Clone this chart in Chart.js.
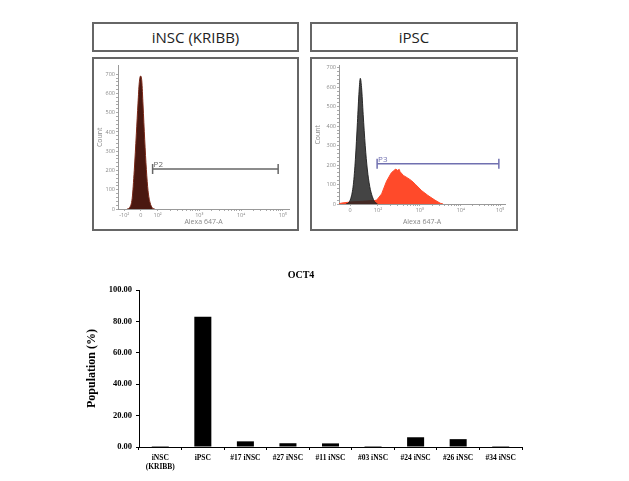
<!DOCTYPE html>
<html>
<head>
<meta charset="utf-8">
<script src="https://cdn.jsdelivr.net/npm/chart.js@4.4.1/dist/chart.umd.min.js"></script>
<style>
  body { margin: 0; background: #fff; width: 629px; height: 481px; position: relative; overflow: hidden; }
  .box { position: absolute; box-sizing: border-box; border: 2px solid #666; background: #fff; }
  .head { font-family: "Open Sans", sans-serif; font-size: 15px; color: #222; text-align: center; line-height: 26px; }
  canvas { position: absolute; }
</style>
</head>
<body>
<div class="box head" style="left:92px;top:22px;width:207px;height:30px;">iNSC (KRIBB)</div>
<div class="box head" style="left:310px;top:22px;width:208px;height:30px;">iPSC</div>
<div class="box" style="left:92px;top:57px;width:207px;height:174px;"></div>
<div class="box" style="left:310px;top:57px;width:208px;height:174px;"></div>
<div style="position:absolute;left:94px;top:59px;width:203px;height:170px;"><canvas id="histLeft"></canvas></div>
<div style="position:absolute;left:312px;top:59px;width:204px;height:170px;"><canvas id="histRight"></canvas></div>
<div style="position:absolute;left:80px;top:265px;width:460px;height:215px;"><canvas id="bars"></canvas></div>
<script>
// flow histograms, x in display units of the biexponential axis (decades)
const leftX = [-0.33, -0.27, -0.21, -0.16, -0.11, -0.07, -0.04, -0.01, 0.02, 0.05, 0.09, 0.13, 0.17, 0.22, 0.27, 0.33]
const leftCount = [0, 8, 55, 200, 390, 550, 655, 690, 665, 540, 360, 205, 95, 32, 7, 0]

const blackX = [-0.1, -0.04, 0.02, 0.08, 0.13, 0.18, 0.22, 0.25, 0.28, 0.32, 0.37, 0.42, 0.48, 0.54, 0.6, 0.67]
const blackCount = [0, 6, 30, 100, 230, 420, 580, 646, 600, 460, 300, 180, 90, 40, 12, 0]

const redX = [-0.3, -0.2, 0, 0.3, 0.6, 0.65, 0.77, 0.89, 1.0, 1.06, 1.12, 1.15, 1.2, 1.22, 1.3, 1.41, 1.5, 1.59, 1.75, 1.9, 2.07, 2.2, 2.27]
const redCount = [0, 5, 10, 14, 18, 20, 52, 117, 158, 171, 180, 172, 178, 166, 147, 133, 120, 102, 68, 44, 20, 4, 0]

const leftTickPos = [-0.4, 0, 0.4, 1.4, 2.4, 3.4]
const leftTickText = ['-10²', '0', '10²', '10³', '10⁴', '10⁵']
const rightTickPos = [0, 0.68, 1.7, 2.7, 3.66]
const rightTickText = ['0', '10²', '10³', '10⁴', '10⁵']

const gateLeft = { name: 'P2', from: 0.28, to: 3.29, count: 208 }
const gateRight = { name: 'P3', from: 0.66, to: 3.63, count: 207 }

// bar chart
const barLabels = [['iNSC', '(KRIBB)'], 'iPSC', '#17 iNSC', '#27 iNSC', '#11 iNSC', '#03 iNSC', '#24 iNSC', '#26 iNSC', '#34 iNSC']
const barValues = [0.6, 83.0, 3.6, 2.4, 2.3, 0.6, 6.2, 5.0, 0.6]

function points (xs, ys) {
  return xs.map(function (x, i) { return { x: x, y: ys[i] } })
}

function minorTicks (majors) {
  // log minor ticks between the decade labels
  const out = []
  for (let i = 0; i < majors.length - 1; i++) {
    const a = majors[i]
    const b = majors[i + 1]
    if (b - a > 0.8) {
      for (let k = 2; k < 10; k++) out.push(a + (b - a) * Math.log10(k))
    }
  }
  return out
}

const gatePlugin = {
  id: 'gateText',
  afterDatasetsDraw (chart) {
    const g = chart.options.plugins.gateText
    if (!g) return
    const ctx = chart.ctx
    const x = chart.scales.x.getPixelForValue(g.from)
    const y = chart.scales.y.getPixelForValue(g.count)
    ctx.save()
    ctx.font = '8px "Open Sans", sans-serif'
    ctx.fillStyle = g.color
    ctx.textBaseline = 'bottom'
    ctx.fillText(g.name, x + 1, y)
    ctx.restore()
  },
}

function histConfig (datasets, tickPos, tickText, xMin, xMax, yMax, xHeight, yWidth, pad, gate, gateColor) {
  datasets.push({
    data: [{ x: gate.from, y: gate.count }, { x: gate.to, y: gate.count }],
    borderColor: gateColor,
    borderWidth: 1.5,
    pointStyle: 'line',
    rotation: 90,
    pointRadius: 5,
    pointBorderWidth: 1.5,
    pointBorderColor: gateColor,
    fill: false,
  })
  const tickFont = { family: 'Open Sans', size: 5.5 }
  return {
    type: 'line',
    data: { datasets: datasets },
    plugins: [gatePlugin],
    options: {
      responsive: true,
      maintainAspectRatio: false,
      animation: false,
      layout: { padding: pad },
      plugins: {
        legend: { display: false },
        tooltip: { enabled: false },
        gateText: { name: gate.name, from: gate.from, count: gate.count, color: gateColor },
      },
      elements: { point: { radius: 0 }, line: { tension: 0 } },
      scales: {
        x: {
          type: 'linear',
          min: xMin,
          max: xMax,
          afterBuildTicks: function (scale) {
            scale.ticks = tickPos.concat(minorTicks(tickPos)).map(function (v) { return { value: v } })
          },
          afterFit: function (scale) { scale.height = xHeight },
          ticks: {
            autoSkip: false,
            maxRotation: 0,
            padding: 1,
            color: '#888',
            font: tickFont,
            callback: function (value) {
              const i = tickPos.indexOf(value)
              return i >= 0 ? tickText[i] : ''
            },
          },
          grid: { drawOnChartArea: false, tickLength: 2, color: '#aaa' },
          border: { color: '#999', width: 1 },
          title: { display: true, text: 'Alexa 647-A', color: '#888', font: { family: 'Open Sans', size: 7 }, padding: { top: 0, bottom: 3 } },
        },
        y: {
          min: 0,
          max: yMax,
          afterBuildTicks: function (scale) {
            const t = []
            for (let v = 0; v <= 700; v += 20) t.push({ value: v })
            scale.ticks = t
          },
          afterFit: function (scale) { scale.width = yWidth },
          ticks: {
            autoSkip: false,
            padding: 1,
            color: '#888',
            font: tickFont,
            callback: function (value) { return value % 100 === 0 ? value : '' },
          },
          grid: { drawOnChartArea: false, tickLength: 2, color: '#aaa' },
          border: { color: '#999', width: 1 },
          title: { display: true, text: 'Count', color: '#888', font: { family: 'Open Sans', size: 7 }, padding: { top: 2, bottom: 0 } },
        },
      },
    },
  }
}

new Chart(document.getElementById('histLeft'), histConfig([
  {
    data: points(leftX, leftCount),
    borderColor: '#7a2818',
    borderWidth: 1,
    backgroundColor: '#4a1810',
    fill: 'origin',
    cubicInterpolationMode: 'monotone',
  },
], leftTickPos, leftTickText, -0.55, 3.55, 745, 20, 24, { top: 1, right: 8, left: 0, bottom: 0 }, gateLeft, '#666'))

new Chart(document.getElementById('histRight'), histConfig([
  {
    data: points(redX, redCount),
    borderColor: '#ff4a2a',
    borderWidth: 1,
    backgroundColor: '#ff4a2a',
    fill: 'origin',
    order: 2,
  },
  {
    data: points(blackX, blackCount),
    borderColor: 'rgba(30,30,30,0.9)',
    borderWidth: 1,
    backgroundColor: 'rgba(35,35,35,0.85)',
    fill: 'origin',
    cubicInterpolationMode: 'monotone',
    order: 1,
  },
], rightTickPos, rightTickText, -0.27, 3.78, 712, 25, 27, { top: 0, right: 11, left: 0, bottom: 0 }, gateRight, '#7070b0'))

const serif = 'Liberation Serif'
new Chart(document.getElementById('bars'), {
  type: 'bar',
  data: {
    labels: barLabels,
    datasets: [{
      data: barValues,
      backgroundColor: '#000',
      barPercentage: 0.4,
      categoryPercentage: 1,
    }],
  },
  options: {
    responsive: true,
    maintainAspectRatio: false,
    animation: false,
    layout: { padding: { top: 0, right: 18, left: 0, bottom: 0 } },
    plugins: {
      legend: { display: false },
      tooltip: { enabled: false },
      title: {
        display: true,
        text: 'OCT4',
        color: '#000',
        font: { family: serif, size: 10, weight: 'bold' },
        padding: { top: 4, bottom: 9 },
      },
    },
    scales: {
      x: {
        afterFit: function (scale) { scale.height = 33 },
        ticks: { color: '#000', font: { family: serif, size: 7.5, weight: 'bold' }, padding: 4, maxRotation: 0, autoSkip: false },
        grid: { offset: true, drawOnChartArea: false, tickLength: 3, color: '#000' },
        border: { color: '#000', width: 1 },
      },
      y: {
        min: 0,
        max: 100,
        afterFit: function (scale) { scale.width = 59 },
        ticks: {
          stepSize: 20,
          color: '#000',
          padding: 4,
          font: { family: serif, size: 8.5, weight: 'bold' },
          callback: function (value) { return value.toFixed(2) },
        },
        grid: { drawOnChartArea: false, tickLength: 3, color: '#000' },
        border: { color: '#000', width: 1 },
        title: {
          display: true,
          text: 'Population (%)',
          color: '#000',
          font: { family: serif, size: 12, weight: 'bold' },
          padding: { top: 5 },
        },
      },
    },
  },
})
</script>
</body>
</html>
